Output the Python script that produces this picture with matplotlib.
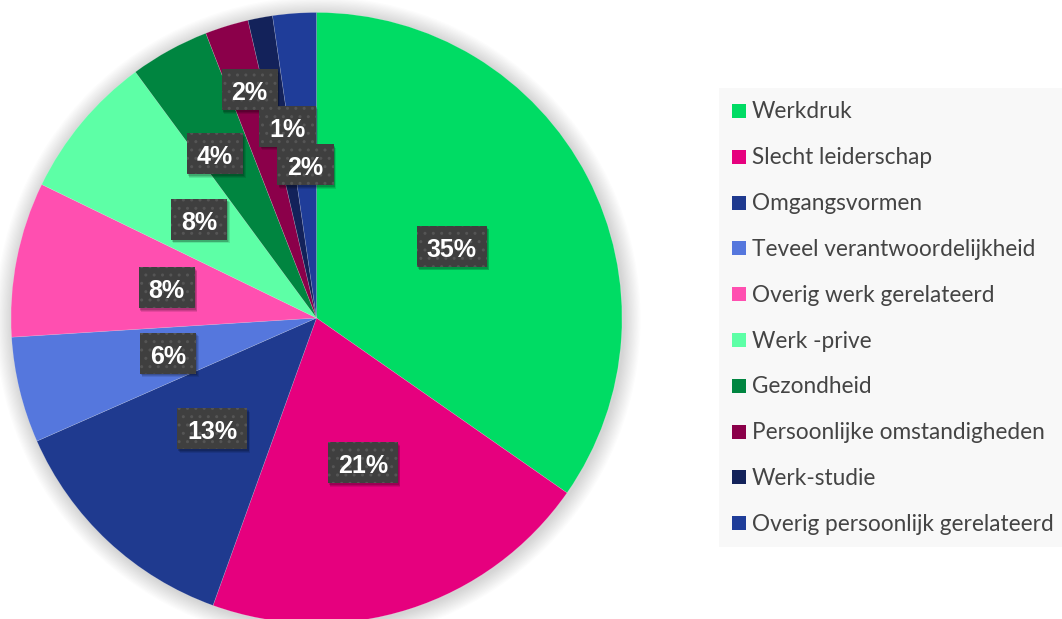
import matplotlib
matplotlib.use("Agg")
import matplotlib.pyplot as plt
from matplotlib.patches import Rectangle, Circle
import numpy as np

categories = ["Werkdruk", "Slecht leiderschap", "Omgangsvormen", "Teveel verantwoordelijkheid",
              "Overig werk gerelateerd", "Werk -prive", "Gezondheid", "Persoonlijke omstandigheden",
              "Werk-studie", "Overig persoonlijk gerelateerd"]
values = [34.7, 20.8, 12.9, 5.6, 8.2, 7.7, 4.2, 2.3, 1.3, 2.3]
labels = ["35%", "21%", "13%", "6%", "8%", "8%", "4%", "2%", "1%", "2%"]
colors = ["#00dc64", "#e6007e", "#1f3a8f", "#5577dd", "#ff4fb0",
          "#5dffa6", "#008540", "#8b004a", "#13225a", "#1f3d99"]
# label radial position (fraction of radius) and angular nudge -- style only
label_r = [0.5, 0.5, 0.5, 0.5, 0.5, 0.5, 0.63, 0.776, 0.632, 0.5]
label_dang = [0, 0, 0, 0, 0, 0, 3.0, -0.7, -2.0, 0]

plt.rcParams["hatch.color"] = "#555555"
plt.rcParams["hatch.linewidth"] = 1.0

W, H = 1062, 619
fig = plt.figure(figsize=(W / 100, H / 100), dpi=100)
fig.patch.set_facecolor("white")

cx, cy, R = 316.5, 318.0, 305.5
L = 1.12
ax = fig.add_axes([(cx - L * R) / W, (H - cy - L * R) / H, 2 * L * R / W, 2 * L * R / H])
ax.axis("off")

# soft shadow
for i in range(14):
    rr = 1.0 + 0.004 * (14 - i)
    ax.add_patch(Circle((0.005, -0.005), rr, color="#000000", alpha=0.012, lw=0, zorder=0))

wedges, _ = ax.pie(values, colors=colors, startangle=90, counterclock=False, radius=1.0,
                   wedgeprops=dict(linewidth=0.4, edgecolor=(1, 1, 1, 0.25)))
for w in wedges:
    w.set_zorder(1)
ax.set_xlim(-L, L)
ax.set_ylim(-L, L)
ax.set_aspect("equal")

renderer = fig.canvas.get_renderer()
px = (2 * L) / (2 * L * R)  # data units per pixel
total = sum(values)
cum = 0.0
for v, lab, rf, da in zip(values, labels, label_r, label_dang):
    mid = cum + v / 2
    cum += v
    theta = np.deg2rad(90 - 360 * mid / total + da)
    x, y = rf * np.cos(theta), rf * np.sin(theta)
    t = ax.text(x, y, lab, ha="center", va="center_baseline", fontsize=18, fontweight="bold",
                family="Liberation Sans", color="white", zorder=5)
    tw = t.get_window_extent(renderer).width
    bw, bh = (tw + 20) * px, 41 * px
    yb = y + 1.0 * px
    # shadow
    for k, a in ((4, 0.10), (3, 0.12), (2, 0.15)):
        ax.add_patch(Rectangle((x - bw / 2 + k * px * 0.6, yb - bh / 2 - k * px * 0.9), bw, bh,
                               fc=(0, 0, 0, a), ec="none", zorder=3))
    ax.add_patch(Rectangle((x - bw / 2, yb - bh / 2), bw, bh, fc="#3f3f3f", ec="#555555",
                           lw=0, hatch="..", zorder=4))

# legend panel
lx0, ly0, ly1 = 719, 88, 547
fig.patches.append(Rectangle((lx0 / W, 1 - ly1 / H), (W - lx0) / W, (ly1 - ly0) / H,
                             transform=fig.transFigure, fc="#f8f8f8", ec="none", zorder=0))
texts = []
for i, (name, c) in enumerate(zip(categories, colors)):
    yc = 111 + i * 45.8
    fig.patches.append(Rectangle((732 / W, 1 - (yc + 7) / H), 14 / W, 14 / H,
                                 transform=fig.transFigure, fc=c, ec="none", zorder=2))
    texts.append(fig.text(752 / W, 1 - (yc + 1) / H, name, ha="left", va="center", fontsize=15,
                          family="Lato", color="#444444", zorder=3))
# fit the longest legend label to the reference width
maxw = max(t.get_window_extent(renderer).width for t in texts)
fs = 15 * 301 / maxw
for t in texts:
    t.set_fontsize(fs)

fig.savefig("out.png", dpi=100, facecolor="white")
